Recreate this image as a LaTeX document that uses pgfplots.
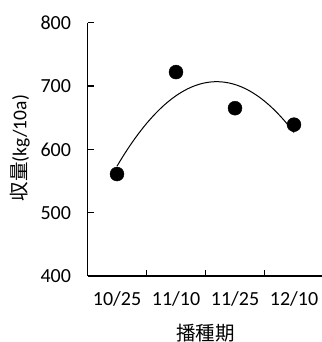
\documentclass[border=0pt]{standalone}
\usepackage{pgfplots}
\pgfplotsset{compat=1.18}
\usepackage{fontspec}
\setmainfont{Carlito}
\newfontfamily\cjk{Noto Sans CJK JP}
\begin{document}
\begin{tikzpicture}
\begin{axis}[
  at={(87.5pt,66pt)}, anchor=south west,
  scale only axis, width=236pt, height=253.3pt,
  xmin=0.5, xmax=4.5, ymin=400, ymax=800,
  axis lines=left, axis line style={-, line width=1.3pt},
  ytick={400,500,600,700,800},
  xtick={1,2,3,4}, xticklabels={10/25,11/10,11/25,12/10},
  minor xtick={1.5,2.5,3.5,4.5},
  tick align=inside, major tick length=6pt, minor tick length=6pt,
  major x tick style={draw=none},
  minor x tick style={black, line width=1.3pt},
  ytick style={black, line width=1.3pt},
  /pgf/number format/assume math mode=true,
  ticklabel style={font=\fontsize{20}{22}\selectfont},
  yticklabel style={xshift=-13pt},
  xticklabel style={yshift=-12pt},
  xlabel={\cjk 播種期},
  xlabel style={at={(axis description cs:0.5,-0.225)}, anchor=center, font=\fontsize{19.5}{22}\selectfont},
  ylabel={{\cjk 収量}(kg/10a)},
  ylabel style={at={(axis description cs:-0.286,0.505)}, anchor=center, rotate=0, font=\fontsize{19.5}{22}\selectfont},
  clip=false,
]
\addplot[black, line width=1pt, smooth] coordinates {
(1.0,573.45) (1.1,588.78) (1.2,603.17) (1.3,616.63) (1.4,629.15) (1.5,640.74)
(1.6,651.39) (1.7,661.11) (1.8,669.89) (1.9,677.74) (2.0,684.65) (2.1,690.63)
(2.2,695.67) (2.3,699.78) (2.4,702.95) (2.5,705.19) (2.6,706.49) (2.7,706.86)
(2.8,706.29) (2.9,704.79) (3.0,702.35) (3.1,698.98) (3.2,694.67) (3.3,689.43)
(3.4,683.25) (3.5,676.14) (3.6,668.09) (3.7,659.11) (3.8,649.19) (3.9,638.34)
(4.0,626.55)};
\addplot[only marks, mark=*, mark size=7pt, black] coordinates {
(1,561) (2,722) (3,665) (4,639)};
\end{axis}
\pgfresetboundingbox
\useasboundingbox (0,0) rectangle (321pt,342pt);
\end{tikzpicture}
\end{document}
